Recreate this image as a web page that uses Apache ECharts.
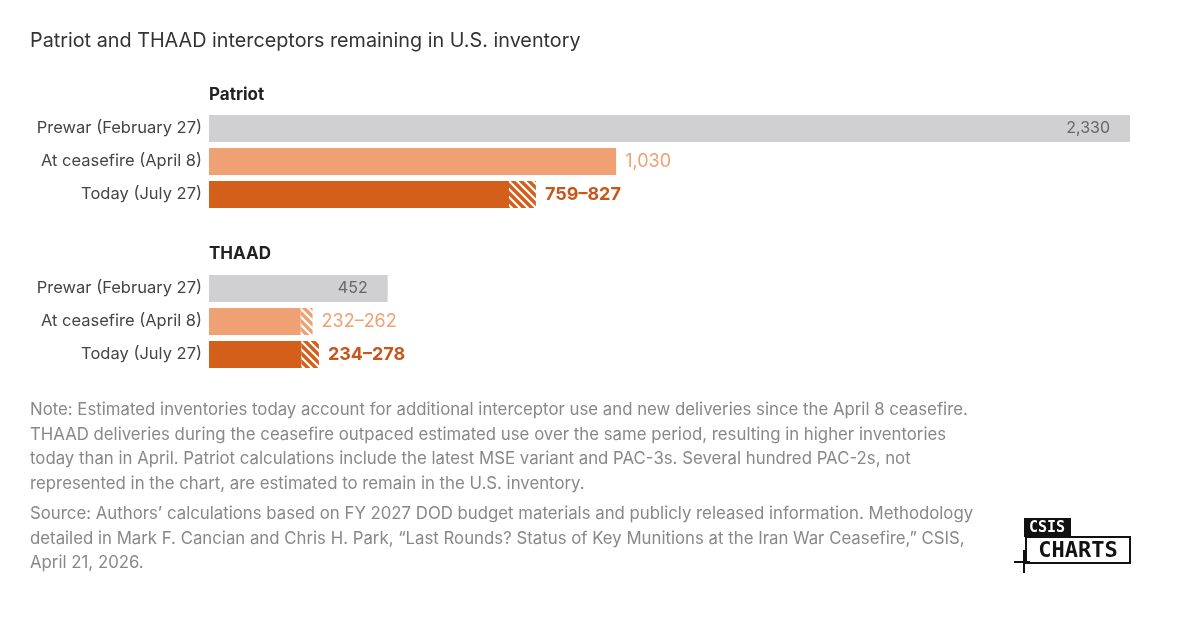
<!DOCTYPE html>
<html><head><meta charset="utf-8">
<script src="https://cdn.jsdelivr.net/npm/echarts@6/dist/echarts.min.js"></script>
<style>html,body{margin:0;background:#fff}#c{width:1200px;height:620px}</style>
</head><body><div id="c"></div>
<script>
var rows = ['Prewar (February 27)', 'At ceasefire (April 8)', 'Today (July 27)'];
var patriotLow = [2330, 1030, 759];
var patriotHigh = [2330, 1030, 827];
var thaadLow = [452, 232, 234];
var thaadHigh = [452, 262, 278];
var xMax = 2330;

var grey = '#d0d0d2', light = '#efa173', dark = '#d35f1a';
var colors = [grey, light, dark];

function hatch(base) {
    var c = document.createElement('canvas');
    c.width = 8; c.height = 8;
    var g = c.getContext('2d');
    g.fillStyle = base; g.fillRect(0, 0, 8, 8);
    g.strokeStyle = '#fff'; g.lineWidth = 2.2;
    g.beginPath();
    g.moveTo(-2, -2); g.lineTo(10, 10);
    g.moveTo(-6, 2); g.lineTo(2, 10);
    g.moveTo(6, -2); g.lineTo(10, 2);
    g.stroke();
    return { image: c, repeat: 'repeat' };
}

function labelText(lo, hi) {
    var f = function (v) { return v.toLocaleString('en-US'); };
    return lo === hi ? f(lo) : f(lo) + '–' + f(hi);
}

function build(low, high, gi) {
    var base = low.map(function (v, i) {
        var item = { value: v, itemStyle: { color: colors[i] } };
        if (low[i] === high[i]) {
            item.label = i === 0 ?
                { show: true, position: 'insideRight', distance: 20, color: '#666', fontSize: 16, formatter: labelText(low[i], high[i]) } :
                { show: true, position: 'right', distance: 9, color: light, fontSize: 18, formatter: labelText(low[i], high[i]) };
        }
        return item;
    });
    var extra = low.map(function (v, i) {
        var d = high[i] - low[i];
        var item = { value: d, itemStyle: { color: d > 0 ? hatch(colors[i]) : 'transparent' } };
        if (d > 0) {
            item.label = { show: true, position: 'right', distance: 9, color: i === 2 ? '#c8561a' : light,
                fontWeight: i === 2 ? 'bold' : 'normal', fontSize: 18, formatter: labelText(low[i], high[i]) };
        }
        return item;
    });
    return [
        { type: 'bar', stack: 's' + gi, xAxisIndex: gi, yAxisIndex: gi, barWidth: 27, data: base, silent: true },
        { type: 'bar', stack: 's' + gi, xAxisIndex: gi, yAxisIndex: gi, barWidth: 27, data: extra, silent: true }
    ];
}

var chart = echarts.init(document.getElementById('c'));
var font = 'Inter, "Noto Sans", sans-serif';
function yAx(gi) {
    return { type: 'category', gridIndex: gi, data: rows, inverse: true, axisLine: { show: false }, axisTick: { show: false },
        axisLabel: { color: '#444', fontSize: 16.5, margin: 7 } };
}
function xAx(gi) {
    return { type: 'value', gridIndex: gi, min: 0, max: xMax, show: false };
}
var note = ['Note: Estimated inventories today account for additional interceptor use and new deliveries since the April 8 ceasefire.',
    'THAAD deliveries during the ceasefire outpaced estimated use over the same period, resulting in higher inventories',
    'today than in April. Patriot calculations include the latest MSE variant and PAC-3s. Several hundred PAC-2s, not',
    'represented in the chart, are estimated to remain in the U.S. inventory.'];
var src = ['Source: Authors’ calculations based on FY 2027 DOD budget materials and publicly released information. Methodology',
    'detailed in Mark F. Cancian and Chris H. Park, “Last Rounds? Status of Key Munitions at the Iran War Ceasefire,” CSIS,',
    'April 21, 2026.'];
var mono = '"DejaVu Sans Mono", monospace';
chart.setOption({
    textStyle: { fontFamily: font },
    animation: false,
    grid: [
        { left: 209, width: 921, top: 112, height: 99 },
        { left: 209, width: 921, top: 272, height: 99 }
    ],
    xAxis: [xAx(0), xAx(1)],
    yAxis: [yAx(0), yAx(1)],
    series: build(patriotLow, patriotHigh, 0).concat(build(thaadLow, thaadHigh, 1)),
    graphic: [
        { type: 'text', left: 30, top: 31, style: { text: 'Patriot and THAAD interceptors remaining in U.S. inventory', fontSize: 19.8, fill: '#333', fontFamily: font } },
        { type: 'text', left: 209, top: 86, style: { text: 'Patriot', fontSize: 17, fontWeight: 'bold', fill: '#222', fontFamily: font } },
        { type: 'text', left: 209, top: 245, style: { text: 'THAAD', fontSize: 17, fontWeight: 'bold', fill: '#222', fontFamily: font } },
        { type: 'text', left: 30, top: 398, style: { text: note.join('\n'), fontSize: 16.8, lineHeight: 24.5, fill: '#888', fontFamily: font } },
        { type: 'text', left: 30, top: 502, style: { text: src.join('\n'), fontSize: 16.8, lineHeight: 24.5, fill: '#888', fontFamily: font } },
        { type: 'rect', shape: { x: 1024, y: 518, width: 47, height: 19 }, style: { fill: '#111' } },
        { type: 'text', x: 1047, y: 528, style: { text: 'CSIS', fontSize: 15, fontWeight: 'bold', fill: '#fff', fontFamily: mono, align: 'center', verticalAlign: 'middle' } },
        { type: 'rect', shape: { x: 1026, y: 537, width: 104, height: 26 }, style: { fill: '#fff', stroke: '#111', lineWidth: 2 } },
        { type: 'text', x: 1078, y: 551, style: { text: 'CHARTS', fontSize: 22, fontWeight: 'bold', fill: '#111', fontFamily: mono, align: 'center', verticalAlign: 'middle' } },
        { type: 'line', shape: { x1: 1014, y1: 562, x2: 1030, y2: 562 }, style: { stroke: '#111', lineWidth: 2 } },
        { type: 'line', shape: { x1: 1024, y1: 550, x2: 1024, y2: 573 }, style: { stroke: '#111', lineWidth: 2 } }
    ]
});
</script></body></html>
